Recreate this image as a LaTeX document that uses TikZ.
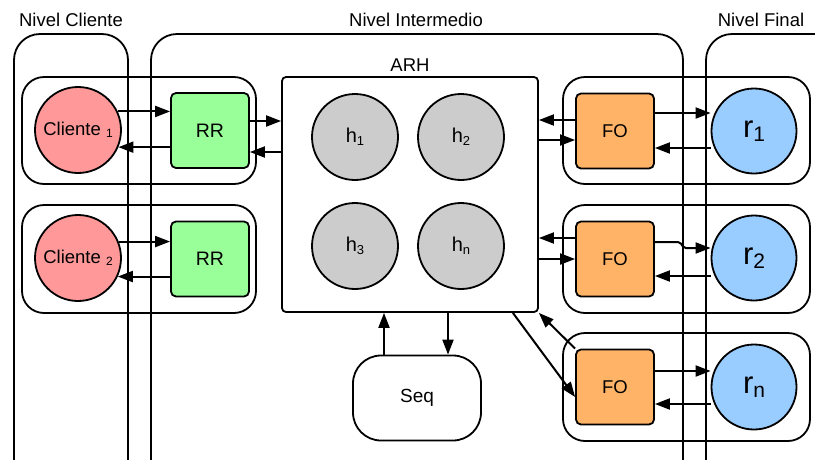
\documentclass[tikz,border=0pt]{standalone}
\usepackage{fontspec}
\setmainfont{Liberation Sans}
\usetikzlibrary{arrows.meta}
\definecolor{clipink}{HTML}{FF9999}
\definecolor{rrgreen}{HTML}{99FF99}
\definecolor{foorange}{HTML}{FFB366}
\definecolor{resblue}{HTML}{99CCFF}
\definecolor{hgray}{HTML}{CCCCCC}
\newcommand{\fs}[1]     {\fontsize{#1}{#1}\selectfont}
\newcommand{\lowsub}[3] {{\fs{#1}\raisebox{-#2}{#3}}}
\newcommand{\hlink}[4]  {\coordinate (tmp) at ([yshift=#2]#1);
                         \draw[arr] (tmp -| #3) -- (tmp -| #4);}

\begin{document}
\begin{tikzpicture}[x=1pt,y=-1pt,line width=1.8pt,
  column/.style={draw,rounded corners=26pt},
  grp/.style={draw,rounded corners=22pt},
  client/.style={circle,draw,fill=clipink,minimum size=86pt,inner sep=0pt,font=\fs{18.5}},
  res/.style={circle,draw,fill=resblue,minimum size=85pt,inner sep=0pt,font=\fs{31}},
  hnode/.style={circle,draw,fill=hgray,minimum size=86pt,inner sep=0pt,font=\fs{20}},
  rrbox/.style={draw,fill=rrgreen,rounded corners=5pt,minimum width=78pt,minimum height=75pt,inner sep=0pt,font=\fs{19.5}},
  fobox/.style={draw,fill=foorange,rounded corners=5pt,minimum width=78pt,minimum height=75pt,inner sep=0pt,font=\fs{18.5}},
  head/.style={font=\fs{18.5}},
  arr/.style={line width=2pt,-{Triangle[length=15pt,width=11pt]}}]
  \useasboundingbox (0,0) rectangle (815,459);
  \clip (0,0) rectangle (815,459);
  \def\ya{130}
  \def\yb{258}
  \def\yc{387}
  % levels
  \draw[column] (14,34) rectangle (128,500);
  \draw[column] (151,34) rectangle (683,500);
  \draw[column] (706,34) rectangle (845,500);
  \node[head] (lvcli) at (71,20)  {Nivel Cliente};
  \node[head] (lvint) at (416,20) {Nivel Intermedio};
  \node[head] (lvfin) at (761,20) {Nivel Final};
  % groups
  \draw[grp] (22,77)   rectangle (256,184);
  \draw[grp] (22,205)  rectangle (256,313);
  \draw[grp] (563,77)  rectangle (810,184);
  \draw[grp] (563,205) rectangle (810,313);
  \draw[grp] (563,333) rectangle (810,441);
  % client side
  \node[client] (cl1) at (78,\ya) {Cliente \lowsub{12}{2.5pt}{1}};
  \node[client] (cl2) at (78,\yb) {Cliente \lowsub{12}{2.5pt}{2}};
  \node[rrbox]  (rr1) at (210,130.5) {RR};
  \node[rrbox]  (rr2) at (210,259) {RR};
  % ARH
  \node[draw,fill=white,rounded corners=4pt,minimum width=256pt,minimum height=235pt,
        label={[font=\fs{18.5},label distance=0pt]above:ARH}] (arh) at (410,194.5) {};
  \node[hnode] (h1) at (355,137) {h\lowsub{13}{3pt}{1}};
  \node[hnode] (h2) at (461,137) {h\lowsub{13}{3pt}{2}};
  \node[hnode] (h3) at (355,246) {h\lowsub{13}{3pt}{3}};
  \node[hnode] (hn) at (461,246) {h\lowsub{13}{3pt}{n}};
  \node[draw,rounded corners=28pt,minimum width=128pt,minimum height=85pt,font=\fs{19}] (seq) at (417,398) {Seq};
  % final side
  \node[fobox] (fo1) at (615,131) {FO};
  \node[fobox] (fo2) at (615,259) {FO};
  \node[fobox] (fo3) at (615,\yc) {FO};
  \node[res] (r1) at (754,131)  {r\lowsub{21}{4pt}{1}};
  \node[res] (r2) at (754,\yb)  {r\lowsub{21}{4pt}{2}};
  \node[res] (rn) at (754,\yc)  {r\lowsub{21}{4pt}{n}};
  % client <-> RR
  \draw[arr] (cl1.25) -- (cl1.25 -| rr1.west);
  \draw[arr] (rr1.west |- cl1.-23) -- (cl1.-23);
  \draw[arr] (cl2.22) -- (cl2.22 -| rr2.west);
  \draw[arr] (rr2.west |- cl2.-25) -- (cl2.-25);
  % RR <-> ARH
  \hlink{rr1.east}{9.5pt}{rr1.east}{arh.west}
  \hlink{rr1.east}{-21.5pt}{arh.west}{rr1.east}
  % ARH <-> FO
  \hlink{fo1.west}{11pt}{fo1.west}{arh.east}
  \hlink{fo1.west}{-9pt}{arh.east}{fo1.west}
  \hlink{fo2.west}{21pt}{fo2.west}{arh.east}
  \hlink{fo2.west}{0pt}{arh.east}{fo2.west}
  \draw[arr] (fo3.north west) -- (arh.south east);
  \draw[arr] ([xshift=-26pt]arh.south east) -- ([yshift=-10pt]fo3.west);
  % ARH <-> Seq
  \draw[arr] ([xshift=-33pt]seq.north) -- ([xshift=-26pt]arh.south);
  \draw[arr] ([xshift=38pt]arh.south) -- ([xshift=31pt]seq.north);
  % FO <-> r
  \hlink{fo1.east}{18pt}{fo1.east}{r1.west}
  \hlink{fo1.east}{-17pt}{r1.west}{fo1.east}
  \draw[arr,rounded corners=2pt] ([yshift=17pt]fo2.east) -- ++(25,0) -- ++(4,6) -- ([yshift=10pt]r2.west);
  \hlink{fo2.east}{-17pt}{r2.west}{fo2.east}
  \hlink{fo3.east}{16pt}{fo3.east}{rn.west}
  \hlink{fo3.east}{-17pt}{rn.west}{fo3.east}
\end{tikzpicture}
\end{document}
